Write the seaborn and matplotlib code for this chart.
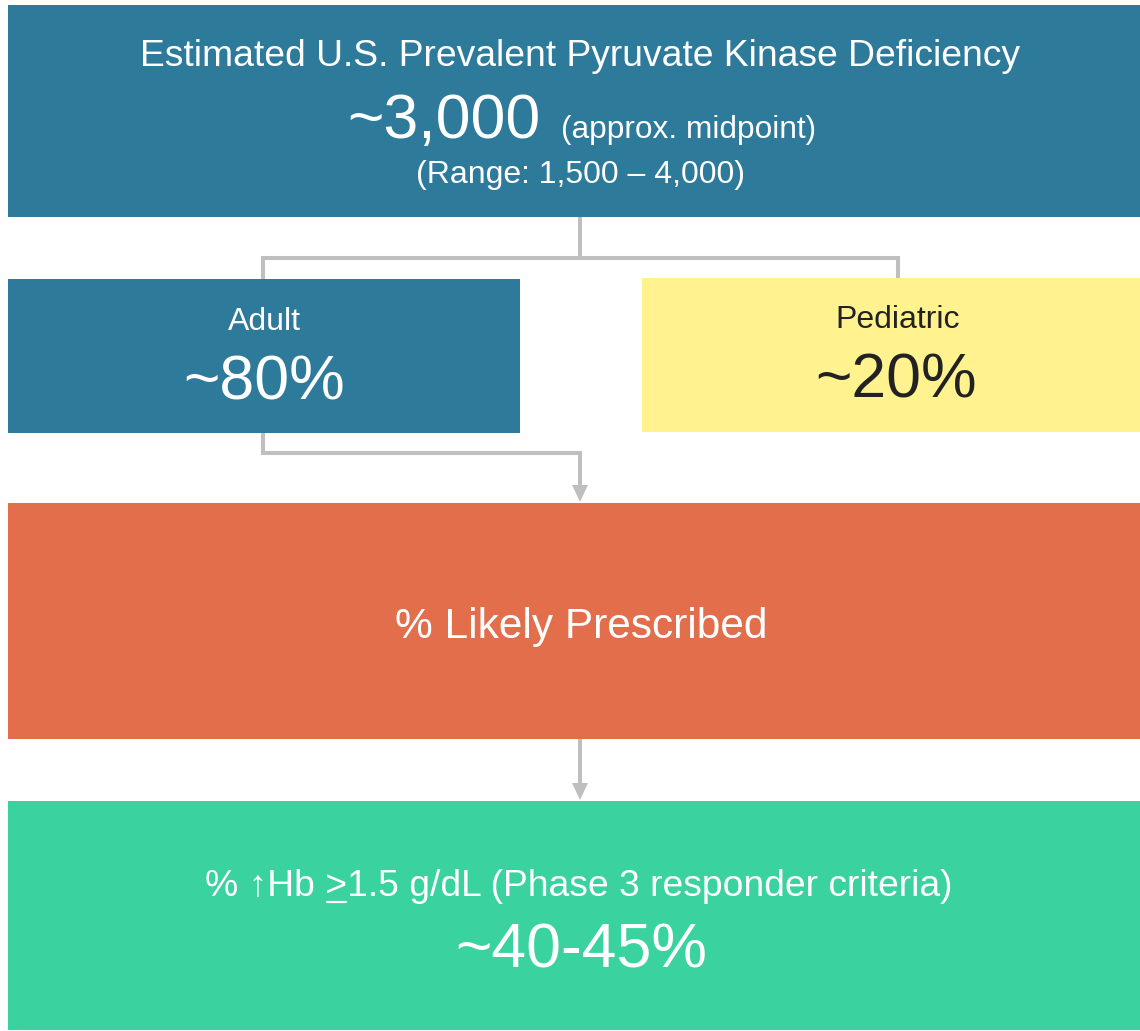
import matplotlib
matplotlib.use("Agg")
import matplotlib.pyplot as plt
from matplotlib.patches import Rectangle, FancyArrowPatch
import seaborn as sns

# ---- data ----
top_title = "Estimated U.S. Prevalent Pyruvate Kinase Deficiency"
top_value = "~3,000"
top_note = "(approx. midpoint)"
top_range = "(Range: 1,500 \u2013 4,000)"
split_labels = ["Adult", "Pediatric"]
split_values = ["~80%", "~20%"]
prescribed_label = "% Likely Prescribed"
responder_prefix = "% \u2191Hb "
responder_sign = ">"
responder_rest = "1.5 g/dL (Phase 3 responder criteria)"
responder_value = "~40-45%"

sns.set_theme(style="white")
plt.rcParams['font.family'] = ['Liberation Sans', 'DejaVu Sans']

W, H = 1140, 1031
fig = plt.figure(figsize=(W / 100, H / 100), dpi=100)
ax = fig.add_axes([0, 0, 1, 1])
ax.set_xlim(0, W)
ax.set_ylim(H, 0)
ax.axis("off")

BLUE = "#2E7A9B"
YELLOW = "#FFF28F"
ORANGE = "#E36E4C"
GREEN = "#3AD29F"
GRAY = "#BFBFBF"
DARK = "#222222"

def box(x0, y0, x1, y1, color):
    ax.add_patch(Rectangle((x0, y0), x1 - x0, y1 - y0, facecolor=color, edgecolor="none", zorder=1))

box(8, 5, 1140, 217, BLUE)
box(8, 279, 520, 433, BLUE)
box(642, 278, 1140, 432, YELLOW)
box(8, 503, 1140, 739, ORANGE)
box(8, 801, 1140, 1030, GREEN)

lw = 2.9
def line(xs, ys):
    ax.plot(xs, ys, color=GRAY, lw=lw, solid_capstyle="butt", solid_joinstyle="miter", zorder=0)

line([580, 580], [217, 258])
line([263, 263, 898, 898], [279, 258, 258, 278])
line([263, 263, 580, 580], [433, 453, 453, 488])
line([580, 580], [739, 786])

def head(x, ytip):
    ax.add_patch(plt.Polygon([[x - 8, ytip - 17], [x + 8, ytip - 17], [x, ytip]],
                             closed=True, facecolor=GRAY, edgecolor="none", zorder=0))

head(580, 502)
head(580, 800)

# ---- text ----
ax.text(580, 66, top_title, color="white", fontsize=26.8, ha="center", va="baseline")
ax.text(541, 138, top_value, color="white", fontsize=45, ha="right", va="baseline")
ax.text(561, 138, top_note, color="white", fontsize=22.8, ha="left", va="baseline")
ax.text(580, 183, top_range, color="white", fontsize=23, ha="center", va="baseline")

ax.text(264, 330, split_labels[0], color="white", fontsize=23, ha="center", va="baseline")
ax.text(264, 400, split_values[0], color="white", fontsize=45, ha="center", va="baseline")
ax.text(898, 328, split_labels[1], color=DARK, fontsize=23, ha="center", va="baseline")
ax.text(896, 398, split_values[1], color=DARK, fontsize=45, ha="center", va="baseline")

ax.text(581, 638, prescribed_label, color="white", fontsize=30.5, ha="center", va="baseline")

full = responder_prefix + responder_sign + responder_rest
t_full = ax.text(579, 896, full, color="white", fontsize=26.8, ha="center", va="baseline")
ax.text(581, 967, responder_value, color="white", fontsize=45, ha="center", va="baseline")

# underline the ">" sign
fig.canvas.draw()
r = fig.canvas.get_renderer()
def width(s):
    t = ax.text(0, 0, s, fontsize=26.8)
    w = t.get_window_extent(r).width
    t.remove()
    return w
bb = t_full.get_window_extent(r)
inv = ax.transData.inverted()
x_left = inv.transform((bb.x0, bb.y0))[0]
pre_w = width(responder_prefix + responder_sign) - width(responder_sign)
gt_w = width(responder_sign)
ax.plot([x_left + pre_w + 1, x_left + pre_w + gt_w - 1], [902, 902], color="white", lw=1.6, zorder=3)

fig.savefig("out.png", dpi=100)
